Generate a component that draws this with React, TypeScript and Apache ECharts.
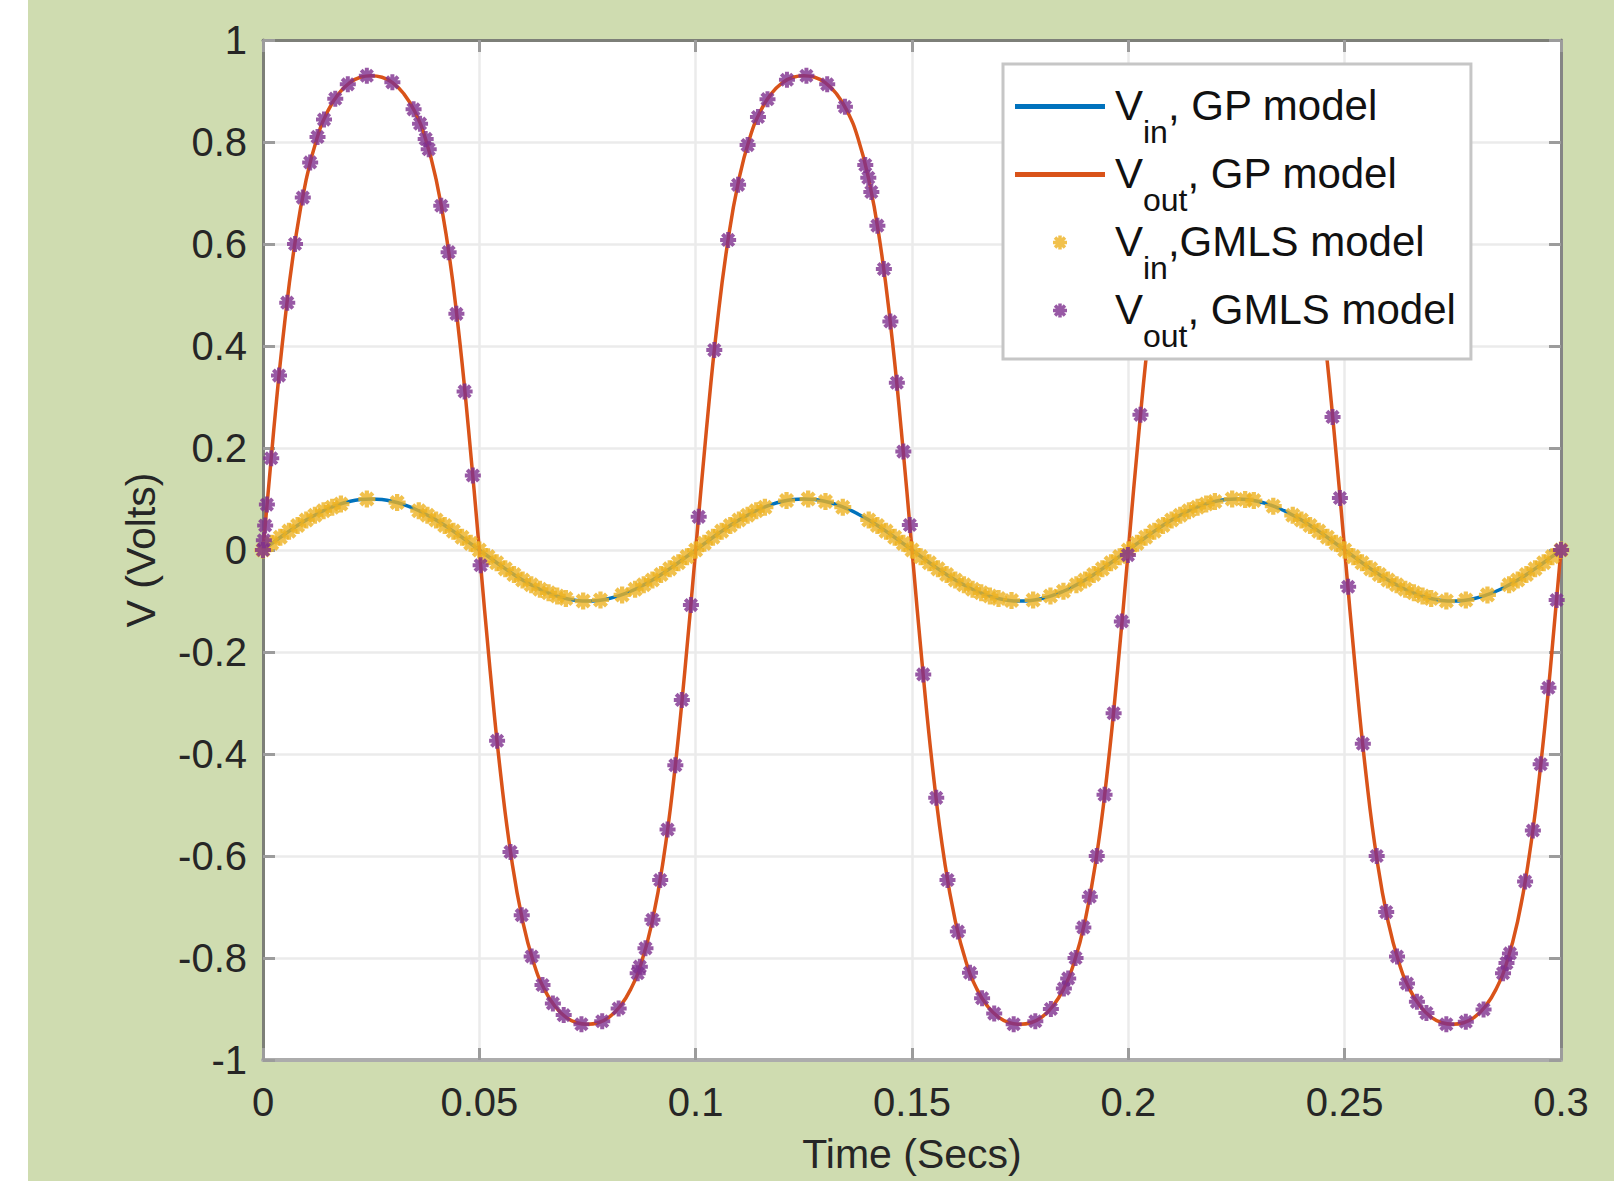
import React, { useEffect, useRef } from "react";
import * as echarts from "echarts";

// ---------- data ----------
const tGP = [
  0, 0.0025, 0.005, 0.0075, 0.01, 0.0125, 0.015, 0.0175, 0.02, 0.0225,
  0.025, 0.0275, 0.03, 0.0325, 0.035, 0.0375, 0.04, 0.0425, 0.045, 0.0475,
  0.05, 0.0525, 0.055, 0.0575, 0.06, 0.0625, 0.065, 0.0675, 0.07, 0.0725,
  0.075, 0.0775, 0.08, 0.0825, 0.085, 0.0875, 0.09, 0.0925, 0.095, 0.0975,
  0.1, 0.1025, 0.105, 0.1075, 0.11, 0.1125, 0.115, 0.1175, 0.12, 0.1225,
  0.125, 0.1275, 0.13, 0.1325, 0.135, 0.1375, 0.14, 0.1425, 0.145, 0.1475,
  0.15, 0.1525, 0.155, 0.1575, 0.16, 0.1625, 0.165, 0.1675, 0.17, 0.1725,
  0.175, 0.1775, 0.18, 0.1825, 0.185, 0.1875, 0.19, 0.1925, 0.195, 0.1975,
  0.2, 0.2025, 0.205, 0.2075, 0.21, 0.2125, 0.215, 0.2175, 0.22, 0.2225,
  0.225, 0.2275, 0.23, 0.2325, 0.235, 0.2375, 0.24, 0.2425, 0.245, 0.2475,
  0.25, 0.2525, 0.255, 0.2575, 0.26, 0.2625, 0.265, 0.2675, 0.27, 0.2725,
  0.275, 0.2775, 0.28, 0.2825, 0.285, 0.2875, 0.29, 0.2925, 0.295, 0.2975,
  0.3,
];

const vinGP = [
  0, 0.0156, 0.0309, 0.0454, 0.0588, 0.0707, 0.0809, 0.0891, 0.0951, 0.0988,
  0.1, 0.0988, 0.0951, 0.0891, 0.0809, 0.0707, 0.0588, 0.0454, 0.0309, 0.0156,
  0, -0.0156, -0.0309, -0.0454, -0.0588, -0.0707, -0.0809, -0.0891, -0.0951, -0.0988,
  -0.1, -0.0988, -0.0951, -0.0891, -0.0809, -0.0707, -0.0588, -0.0454, -0.0309, -0.0156,
  0, 0.0156, 0.0309, 0.0454, 0.0588, 0.0707, 0.0809, 0.0891, 0.0951, 0.0988,
  0.1, 0.0988, 0.0951, 0.0891, 0.0809, 0.0707, 0.0588, 0.0454, 0.0309, 0.0156,
  0, -0.0156, -0.0309, -0.0454, -0.0588, -0.0707, -0.0809, -0.0891, -0.0951, -0.0988,
  -0.1, -0.0988, -0.0951, -0.0891, -0.0809, -0.0707, -0.0588, -0.0454, -0.0309, -0.0156,
  0, 0.0156, 0.0309, 0.0454, 0.0588, 0.0707, 0.0809, 0.0891, 0.0951, 0.0988,
  0.1, 0.0988, 0.0951, 0.0891, 0.0809, 0.0707, 0.0588, 0.0454, 0.0309, 0.0156,
  0, -0.0156, -0.0309, -0.0454, -0.0588, -0.0707, -0.0809, -0.0891, -0.0951, -0.0988,
  -0.1, -0.0988, -0.0951, -0.0891, -0.0809, -0.0707, -0.0588, -0.0454, -0.0309, -0.0156,
  0,
];

const voutGP = [
  0, 0.237, 0.445, 0.609, 0.727, 0.808, 0.861, 0.895, 0.916, 0.927,
  0.93, 0.927, 0.916, 0.895, 0.861, 0.808, 0.727, 0.609, 0.445, 0.237,
  0, -0.237, -0.445, -0.609, -0.727, -0.808, -0.861, -0.895, -0.916, -0.927,
  -0.93, -0.927, -0.916, -0.895, -0.861, -0.808, -0.727, -0.609, -0.445, -0.237,
  0, 0.237, 0.445, 0.609, 0.727, 0.808, 0.861, 0.895, 0.916, 0.927,
  0.93, 0.927, 0.916, 0.895, 0.861, 0.808, 0.727, 0.609, 0.445, 0.237,
  0, -0.237, -0.445, -0.609, -0.727, -0.808, -0.861, -0.895, -0.916, -0.927,
  -0.93, -0.927, -0.916, -0.895, -0.861, -0.808, -0.727, -0.609, -0.445, -0.237,
  0, 0.237, 0.445, 0.609, 0.727, 0.808, 0.861, 0.895, 0.916, 0.927,
  0.93, 0.927, 0.916, 0.895, 0.861, 0.808, 0.727, 0.609, 0.445, 0.237,
  0, -0.237, -0.445, -0.609, -0.727, -0.808, -0.861, -0.895, -0.916, -0.927,
  -0.93, -0.927, -0.916, -0.895, -0.861, -0.808, -0.727, -0.609, -0.445, -0.237,
  0,
];

const vinGmlsT = [
  0, 0.002, 0.004, 0.006, 0.008, 0.01, 0.012, 0.014, 0.016, 0.018,
  0.024, 0.031,
  0.036, 0.038, 0.04, 0.042, 0.044, 0.046, 0.048, 0.05, 0.052, 0.054, 0.056, 0.058, 0.06, 0.062, 0.064, 0.066, 0.068, 0.07,
  0.074, 0.078, 0.083,
  0.086, 0.088, 0.09, 0.092, 0.094, 0.096, 0.098, 0.1, 0.102, 0.104, 0.106, 0.108, 0.11, 0.112, 0.114, 0.116,
  0.121, 0.126, 0.13, 0.134,
  0.14, 0.142, 0.144, 0.146, 0.148, 0.15, 0.152, 0.154, 0.156, 0.158, 0.16, 0.162, 0.164, 0.166, 0.168, 0.17,
  0.173, 0.178, 0.182,
  0.185, 0.188,
  0.19, 0.192, 0.194, 0.196, 0.198, 0.2, 0.202, 0.204, 0.206, 0.208, 0.21, 0.212, 0.214, 0.216, 0.218, 0.22,
  0.224, 0.227, 0.229, 0.2335,
  0.238, 0.24, 0.242, 0.244, 0.246, 0.248, 0.25, 0.252, 0.254, 0.256, 0.258, 0.26, 0.262, 0.264, 0.266, 0.268, 0.27,
  0.2735, 0.278, 0.283,
  0.288, 0.29, 0.292, 0.294, 0.296, 0.298, 0.3,
];

const vinGmlsV = [
  0, 0.013, 0.025, 0.037, 0.048, 0.059, 0.068, 0.077, 0.084, 0.09,
  0.1, 0.093,
  0.077, 0.068, 0.059, 0.048, 0.037, 0.025, 0.013, 0, -0.013, -0.025, -0.037, -0.048, -0.059, -0.068, -0.077, -0.084, -0.09, -0.095,
  -0.1, -0.098, -0.088,
  -0.077, -0.068, -0.059, -0.048, -0.037, -0.025, -0.013, 0, 0.013, 0.025, 0.037, 0.048, 0.059, 0.068, 0.077, 0.084,
  0.097, 0.1, 0.095, 0.084,
  0.059, 0.048, 0.037, 0.025, 0.013, 0, -0.013, -0.025, -0.037, -0.048, -0.059, -0.068, -0.077, -0.084, -0.09, -0.095,
  -0.099, -0.098, -0.09,
  -0.081, -0.068,
  -0.059, -0.048, -0.037, -0.025, -0.013, 0, 0.013, 0.025, 0.037, 0.048, 0.059, 0.068, 0.077, 0.084, 0.09, 0.095,
  0.1, 0.099, 0.097, 0.086,
  0.068, 0.059, 0.048, 0.037, 0.025, 0.013, 0, -0.013, -0.025, -0.037, -0.048, -0.059, -0.068, -0.077, -0.084, -0.09, -0.095,
  -0.1, -0.098, -0.088,
  -0.068, -0.059, -0.048, -0.037, -0.025, -0.013, 0,
];

const voutGmlsT = [
  0, 0.0002, 0.0005, 0.0009, 0.0019, 0.0037, 0.0056, 0.0074, 0.0092, 0.0109, 0.0126, 0.0141, 0.0167, 0.0196, 0.024,
  0.0299, 0.0348, 0.0363, 0.0376, 0.0383, 0.0412, 0.0429, 0.0447, 0.0466, 0.0485, 0.0503,
  0.0541, 0.0572, 0.0598, 0.0621, 0.0646, 0.067, 0.0695, 0.0736, 0.0784, 0.0822, 0.0866, 0.0871, 0.0884, 0.09, 0.0918, 0.0935, 0.0953, 0.0968, 0.0989, 0.1007,
  0.1043, 0.1075, 0.1098, 0.112, 0.1144, 0.1166, 0.1211, 0.1256,
  0.1304, 0.1345, 0.1392, 0.1399, 0.1406, 0.142, 0.1435, 0.145, 0.1465, 0.148, 0.1495,
  0.1526, 0.1556, 0.1582, 0.1606, 0.1634, 0.1662, 0.169, 0.1735, 0.1785, 0.1821, 0.1851, 0.1861, 0.1878, 0.1896, 0.1911, 0.1927, 0.1945, 0.1966, 0.1985, 0.1999,
  0.2028, 0.2059, 0.2094, 0.213, 0.2171, 0.224, 0.2307, 0.2356, 0.2396, 0.2435, 0.2472, 0.2489, 0.2508,
  0.2542, 0.2574, 0.2596, 0.2621, 0.2644, 0.2667, 0.2689, 0.2735, 0.278, 0.2821, 0.2866, 0.2874, 0.2882, 0.2917, 0.2935, 0.2953, 0.2971, 0.299, 0.3,
];

const voutGmlsV = [
  0, 0.019, 0.048, 0.089, 0.18, 0.342, 0.485, 0.6, 0.691, 0.76, 0.81, 0.844, 0.885, 0.913, 0.93,
  0.917, 0.864, 0.836, 0.806, 0.786, 0.675, 0.584, 0.463, 0.311, 0.146, -0.03,
  -0.374, -0.592, -0.716, -0.797, -0.853, -0.889, -0.912, -0.93, -0.924, -0.899, -0.83, -0.817, -0.781, -0.725, -0.647, -0.548, -0.422, -0.294, -0.108, 0.065,
  0.392, 0.608, 0.716, 0.794, 0.849, 0.884, 0.922, 0.93,
  0.913, 0.869, 0.755, 0.73, 0.702, 0.636, 0.551, 0.448, 0.328, 0.193, 0.049,
  -0.244, -0.486, -0.647, -0.748, -0.829, -0.879, -0.909, -0.93, -0.924, -0.9, -0.86, -0.84, -0.8, -0.74, -0.68, -0.6, -0.48, -0.32, -0.14, -0.01,
  0.265, 0.5, 0.7, 0.82, 0.89, 0.93, 0.91, 0.85, 0.74, 0.55, 0.261, 0.102, -0.072,
  -0.38, -0.6, -0.71, -0.797, -0.85, -0.886, -0.908, -0.93, -0.925, -0.901, -0.83, -0.81, -0.791, -0.65, -0.55, -0.42, -0.27, -0.098, 0,
];

const seriesNames = ["Vin, GP model", "Vout, GP model", "Vin,GMLS model", "Vout, GMLS model"];
const legendRichText = [
  "{v|V}{b|in}{a|, GP model}",
  "{v|V}{b|out}{a|, GP model}",
  "{v|V}{b|in}{a|,GMLS model}",
  "{v|V}{b|out}{a|, GMLS model}",
];
const xAxisName = "Time (Secs)";
const yAxisName = "V (Volts)";

// ---------- styles ----------
const FONT = "Liberation Sans, Arial, Helvetica, sans-serif";
const BLUE = "#0072BD";
const ORANGE = "#D95319";
const YELLOW = "#EDB120";
const PURPLE = "#7E2F8E";
const GREEN_BG = "#cfdcb0";
const STAR =
  "path://M0,7.5H20V12.5H0ZM7.5,0H12.5V20H7.5ZM4.7,1.16L18.84,15.3L15.3,18.84L1.16,4.7ZM1.16,15.3L15.3,1.16L18.84,4.7L4.7,18.84Z";
const BAR = "path://M0,0H90V5H0Z";

function zip(a: number[], b: number[]) {
  return a.map((t, i) => [t, b[i]]);
}

export default function App() {
  const ref = useRef<HTMLDivElement>(null);

  useEffect(() => {
    if (!ref.current) return;
    const chart = echarts.init(ref.current, undefined, { renderer: "svg" });

    const tickColor = "#9c9c9c";
    const txt = "#111111";
    const option: any = {
      animation: false,
      backgroundColor: GREEN_BG,
      textStyle: { fontFamily: FONT },
      graphic: [
        {
          type: "rect",
          left: 0,
          top: 0,
          shape: { x: 0, y: 0, width: 28, height: 1181 },
          style: { fill: "#ffffff" },
          silent: true,
        },
      ],
      grid: {
        left: 263,
        top: 40,
        right: 53,
        bottom: 121,
        show: true,
        backgroundColor: "#ffffff",
        borderWidth: 0,
      },
      legend: {
        orient: "vertical",
        left: 1003,
        top: 64,
        padding: [20, 15, 7, 12],
        itemWidth: 90,
        itemHeight: 14,
        itemGap: 4,
        backgroundColor: "#ffffff",
        borderColor: "#c6c6c6",
        borderWidth: 3,
        data: [
          { name: seriesNames[0], icon: BAR, itemStyle: { color: BLUE, borderWidth: 0 } },
          { name: seriesNames[1], icon: BAR, itemStyle: { color: ORANGE, borderWidth: 0 } },
          { name: seriesNames[2], icon: STAR, itemStyle: { color: YELLOW, borderWidth: 0 } },
          { name: seriesNames[3], icon: STAR, itemStyle: { color: PURPLE, borderWidth: 0 } },
        ],
        formatter: (name: string) => legendRichText[seriesNames.indexOf(name)],
        textStyle: {
          fontFamily: FONT,
          color: txt,
          rich: {
            v: {
              fontFamily: FONT,
              fontSize: 42,
              lineHeight: 45,
              verticalAlign: "top",
              padding: [0, 0, 0, 5],
              color: txt,
            },
            a: { fontFamily: FONT, fontSize: 42, lineHeight: 45, verticalAlign: "top", color: txt },
            b: {
              fontFamily: FONT,
              fontSize: 32,
              lineHeight: 30,
              padding: [32, 0, 0, 0],
              verticalAlign: "top",
              color: txt,
            },
          },
        },
      },
      xAxis: [
        {
          type: "value",
          min: 0,
          max: 0.3,
          interval: 0.05,
          position: "bottom",
          name: xAxisName,
          nameLocation: "middle",
          nameGap: 73,
          nameTextStyle: { fontSize: 41, color: "#262626", fontFamily: FONT },
          axisLine: { onZero: false, lineStyle: { color: "#acacac", width: 4 } },
          axisTick: { inside: true, length: 12, lineStyle: { color: tickColor, width: 3 } },
          axisLabel: { fontSize: 40, color: "#262626", margin: 22, fontFamily: FONT },
          splitLine: { show: true, lineStyle: { color: "#ebebeb", width: 2.5 } },
        },
        {
          type: "value",
          min: 0,
          max: 0.3,
          interval: 0.05,
          position: "top",
          axisLine: { onZero: false, lineStyle: { color: "#7d7f78", width: 3 } },
          axisTick: { inside: true, length: 12, lineStyle: { color: tickColor, width: 3 } },
          axisLabel: { show: false },
          splitLine: { show: false },
        },
      ],
      yAxis: [
        {
          type: "value",
          min: -1,
          max: 1,
          interval: 0.2,
          position: "left",
          name: yAxisName,
          nameLocation: "middle",
          nameGap: 102,
          nameTextStyle: { fontSize: 41, color: "#262626", fontFamily: FONT },
          axisLine: { show: true, onZero: false, lineStyle: { color: "#7d7f78", width: 3 } },
          axisTick: { show: true, inside: true, length: 12, lineStyle: { color: tickColor, width: 3 } },
          axisLabel: { fontSize: 40, color: "#262626", margin: 16, fontFamily: FONT },
          splitLine: { show: true, lineStyle: { color: "#ebebeb", width: 2.5 } },
        },
        {
          type: "value",
          min: -1,
          max: 1,
          interval: 0.2,
          position: "right",
          axisLine: { show: true, onZero: false, lineStyle: { color: "#858585", width: 3 } },
          axisTick: { show: true, inside: true, length: 12, lineStyle: { color: tickColor, width: 3 } },
          axisLabel: { show: false },
          splitLine: { show: false },
        },
      ],
      series: [
        {
          name: seriesNames[0],
          type: "line",
          xAxisIndex: 0,
          yAxisIndex: 0,
          data: zip(tGP, vinGP),
          symbol: "none",
          smooth: true,
          color: BLUE,
          lineStyle: { color: BLUE, width: 3.5 },
          itemStyle: { color: BLUE },
          z: 2,
        },
        {
          name: seriesNames[1],
          type: "line",
          xAxisIndex: 0,
          yAxisIndex: 0,
          data: zip(tGP, voutGP),
          symbol: "none",
          smooth: true,
          color: ORANGE,
          lineStyle: { color: ORANGE, width: 3.5 },
          itemStyle: { color: ORANGE },
          z: 2,
        },
        {
          name: seriesNames[2],
          type: "scatter",
          xAxisIndex: 0,
          yAxisIndex: 0,
          data: zip(vinGmlsT, vinGmlsV),
          symbol: STAR,
          symbolSize: 17,
          clip: false,
          color: YELLOW,
          itemStyle: { color: YELLOW },
          z: 3,
        },
        {
          name: seriesNames[3],
          type: "scatter",
          xAxisIndex: 0,
          yAxisIndex: 0,
          data: zip(voutGmlsT, voutGmlsV),
          symbol: STAR,
          symbolSize: 16,
          clip: false,
          color: PURPLE,
          itemStyle: { color: PURPLE },
          z: 3,
        },
      ],
    };

    chart.setOption(option);
    return () => {
      chart.dispose();
    };
  }, []);

  return (
    <div
      ref={ref}
      style={{ position: "fixed", left: 0, top: 0, width: 1614, height: 1181 }}
    />
  );
}
